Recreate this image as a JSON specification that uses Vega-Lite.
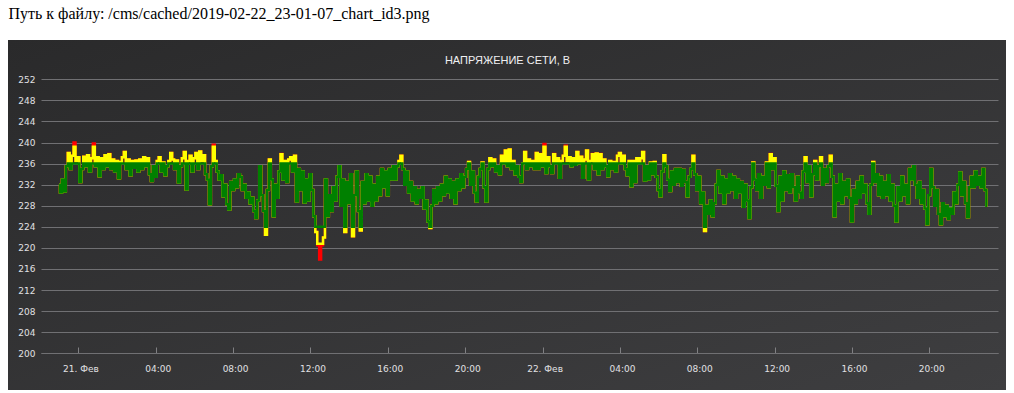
{
  "$schema": "https://vega.github.io/schema/vega-lite/v6.json",
  "width": 998,
  "height": 350,
  "autosize": "none",
  "padding": {"left": 8, "top": 40, "right": 8, "bottom": 3},
  "background": "white",
  "view": {"stroke": null, "fill": {"gradient": "linear", "x1": 0, "y1": 0, "x2": 1, "y2": 1, "stops": [{"offset": 0, "color": "#2a2a2b"}, {"offset": 1, "color": "#3e3e40"}]}},
  "data": {"values": [
{"t":"2019-02-20T23:00","v":232},{"t":"2019-02-20T23:06","v":230.5},{"t":"2019-02-20T23:12","v":233},{"t":"2019-02-20T23:18","v":230.7},{"t":"2019-02-20T23:24","v":235.5},{"t":"2019-02-20T23:30","v":238},{"t":"2019-02-20T23:36","v":235},{"t":"2019-02-20T23:42","v":237.5},{"t":"2019-02-20T23:48","v":240},{"t":"2019-02-20T23:54","v":236.5},
{"t":"2019-02-21T00:00","v":237.2},{"t":"2019-02-21T00:06","v":232.5},{"t":"2019-02-21T00:12","v":235},{"t":"2019-02-21T00:18","v":237.3},{"t":"2019-02-21T00:24","v":235.5},{"t":"2019-02-21T00:30","v":237.6},{"t":"2019-02-21T00:36","v":234.5},{"t":"2019-02-21T00:42","v":237},{"t":"2019-02-21T00:48","v":239.8},{"t":"2019-02-21T00:54","v":235.5},
{"t":"2019-02-21T01:00","v":237.2},{"t":"2019-02-21T01:06","v":233.6},{"t":"2019-02-21T01:12","v":237},{"t":"2019-02-21T01:18","v":235},{"t":"2019-02-21T01:24","v":237.6},{"t":"2019-02-21T01:30","v":235.5},{"t":"2019-02-21T01:36","v":237.8},{"t":"2019-02-21T01:42","v":235},{"t":"2019-02-21T01:48","v":236.8},{"t":"2019-02-21T01:54","v":234.5},
{"t":"2019-02-21T02:00","v":236.5},{"t":"2019-02-21T02:06","v":233.2},{"t":"2019-02-21T02:12","v":236.3},{"t":"2019-02-21T02:18","v":237.2},{"t":"2019-02-21T02:24","v":238.2},{"t":"2019-02-21T02:30","v":235},{"t":"2019-02-21T02:36","v":236.8},{"t":"2019-02-21T02:42","v":233.8},{"t":"2019-02-21T02:48","v":236.5},{"t":"2019-02-21T02:54","v":235.2},
{"t":"2019-02-21T03:00","v":236.6},{"t":"2019-02-21T03:06","v":234.5},{"t":"2019-02-21T03:12","v":236.8},{"t":"2019-02-21T03:18","v":235},{"t":"2019-02-21T03:24","v":237.2},{"t":"2019-02-21T03:30","v":235.5},{"t":"2019-02-21T03:36","v":237},{"t":"2019-02-21T03:42","v":234},{"t":"2019-02-21T03:48","v":232.7},{"t":"2019-02-21T03:54","v":235.5},
{"t":"2019-02-21T04:00","v":233.5},{"t":"2019-02-21T04:06","v":236.5},{"t":"2019-02-21T04:12","v":237.2},{"t":"2019-02-21T04:18","v":234.5},{"t":"2019-02-21T04:24","v":236.2},{"t":"2019-02-21T04:30","v":233.8},{"t":"2019-02-21T04:36","v":235.5},{"t":"2019-02-21T04:42","v":236.5},{"t":"2019-02-21T04:48","v":238},{"t":"2019-02-21T04:54","v":236.8},
{"t":"2019-02-21T05:00","v":235},{"t":"2019-02-21T05:06","v":236.6},{"t":"2019-02-21T05:12","v":232.4},{"t":"2019-02-21T05:18","v":235.5},{"t":"2019-02-21T05:24","v":237},{"t":"2019-02-21T05:30","v":238.2},{"t":"2019-02-21T05:36","v":231.1},{"t":"2019-02-21T05:42","v":236.5},{"t":"2019-02-21T05:48","v":237.5},{"t":"2019-02-21T05:54","v":234.5},
{"t":"2019-02-21T06:00","v":237},{"t":"2019-02-21T06:06","v":238},{"t":"2019-02-21T06:12","v":235},{"t":"2019-02-21T06:18","v":238.3},{"t":"2019-02-21T06:24","v":236.5},{"t":"2019-02-21T06:30","v":237.6},{"t":"2019-02-21T06:36","v":234},{"t":"2019-02-21T06:42","v":233},{"t":"2019-02-21T06:48","v":228.3},{"t":"2019-02-21T06:54","v":235.5},
{"t":"2019-02-21T07:00","v":239.6},{"t":"2019-02-21T07:06","v":236.5},{"t":"2019-02-21T07:12","v":234.5},{"t":"2019-02-21T07:18","v":233},{"t":"2019-02-21T07:24","v":233.8},{"t":"2019-02-21T07:30","v":229.8},{"t":"2019-02-21T07:36","v":232},{"t":"2019-02-21T07:42","v":228.3},{"t":"2019-02-21T07:48","v":227.3},{"t":"2019-02-21T07:54","v":232.5},
{"t":"2019-02-21T08:00","v":231},{"t":"2019-02-21T08:06","v":233},{"t":"2019-02-21T08:12","v":231.5},{"t":"2019-02-21T08:18","v":234},{"t":"2019-02-21T08:24","v":233.5},{"t":"2019-02-21T08:30","v":231},{"t":"2019-02-21T08:36","v":232},{"t":"2019-02-21T08:42","v":229.5},{"t":"2019-02-21T08:48","v":230.5},{"t":"2019-02-21T08:54","v":228.5},
{"t":"2019-02-21T09:00","v":229.5},{"t":"2019-02-21T09:06","v":227},{"t":"2019-02-21T09:12","v":225.7},{"t":"2019-02-21T09:18","v":229},{"t":"2019-02-21T09:24","v":235.5},{"t":"2019-02-21T09:30","v":230},{"t":"2019-02-21T09:36","v":227},{"t":"2019-02-21T09:42","v":222.5},{"t":"2019-02-21T09:48","v":231},{"t":"2019-02-21T09:54","v":236.8},
{"t":"2019-02-21T10:00","v":233},{"t":"2019-02-21T10:06","v":226},{"t":"2019-02-21T10:12","v":232},{"t":"2019-02-21T10:18","v":229.5},{"t":"2019-02-21T10:24","v":234.5},{"t":"2019-02-21T10:30","v":237.8},{"t":"2019-02-21T10:36","v":233},{"t":"2019-02-21T10:42","v":236.5},{"t":"2019-02-21T10:48","v":232.5},{"t":"2019-02-21T10:54","v":236.8},
{"t":"2019-02-21T11:00","v":237.2},{"t":"2019-02-21T11:06","v":234.5},{"t":"2019-02-21T11:12","v":237.5},{"t":"2019-02-21T11:18","v":228.8},{"t":"2019-02-21T11:24","v":235},{"t":"2019-02-21T11:30","v":231},{"t":"2019-02-21T11:36","v":234.5},{"t":"2019-02-21T11:42","v":228.6},{"t":"2019-02-21T11:48","v":233},{"t":"2019-02-21T11:54","v":229},
{"t":"2019-02-21T12:00","v":234},{"t":"2019-02-21T12:06","v":231},{"t":"2019-02-21T12:12","v":226},{"t":"2019-02-21T12:18","v":223},{"t":"2019-02-21T12:24","v":220.5},{"t":"2019-02-21T12:30","v":217.8},{"t":"2019-02-21T12:36","v":220.5},{"t":"2019-02-21T12:42","v":222},{"t":"2019-02-21T12:48","v":233},{"t":"2019-02-21T12:54","v":226},
{"t":"2019-02-21T13:00","v":230},{"t":"2019-02-21T13:06","v":227},{"t":"2019-02-21T13:12","v":231.5},{"t":"2019-02-21T13:18","v":229},{"t":"2019-02-21T13:24","v":233.5},{"t":"2019-02-21T13:30","v":235.5},{"t":"2019-02-21T13:36","v":228},{"t":"2019-02-21T13:42","v":233},{"t":"2019-02-21T13:48","v":223},{"t":"2019-02-21T13:54","v":232.5},
{"t":"2019-02-21T14:00","v":228.5},{"t":"2019-02-21T14:06","v":234},{"t":"2019-02-21T14:12","v":222.2},{"t":"2019-02-21T14:18","v":230},{"t":"2019-02-21T14:24","v":234.5},{"t":"2019-02-21T14:30","v":227},{"t":"2019-02-21T14:36","v":223.3},{"t":"2019-02-21T14:42","v":232.5},{"t":"2019-02-21T14:48","v":228.5},{"t":"2019-02-21T14:54","v":234},
{"t":"2019-02-21T15:00","v":229},{"t":"2019-02-21T15:06","v":233.5},{"t":"2019-02-21T15:12","v":228},{"t":"2019-02-21T15:18","v":232},{"t":"2019-02-21T15:24","v":229},{"t":"2019-02-21T15:30","v":233.5},{"t":"2019-02-21T15:36","v":230},{"t":"2019-02-21T15:42","v":235},{"t":"2019-02-21T15:48","v":231.5},{"t":"2019-02-21T15:54","v":234.5},
{"t":"2019-02-21T16:00","v":230},{"t":"2019-02-21T16:06","v":235},{"t":"2019-02-21T16:12","v":233},{"t":"2019-02-21T16:18","v":235.5},{"t":"2019-02-21T16:24","v":233},{"t":"2019-02-21T16:30","v":235.5},{"t":"2019-02-21T16:36","v":236.5},{"t":"2019-02-21T16:42","v":237.5},{"t":"2019-02-21T16:48","v":235},{"t":"2019-02-21T16:54","v":232},
{"t":"2019-02-21T17:00","v":234.5},{"t":"2019-02-21T17:06","v":230.5},{"t":"2019-02-21T17:12","v":232.5},{"t":"2019-02-21T17:18","v":229},{"t":"2019-02-21T17:24","v":231.5},{"t":"2019-02-21T17:30","v":228.5},{"t":"2019-02-21T17:36","v":231},{"t":"2019-02-21T17:42","v":229.5},{"t":"2019-02-21T17:48","v":231.5},{"t":"2019-02-21T17:54","v":227.5},
{"t":"2019-02-21T18:00","v":229},{"t":"2019-02-21T18:06","v":225},{"t":"2019-02-21T18:12","v":223.8},{"t":"2019-02-21T18:18","v":228},{"t":"2019-02-21T18:24","v":231},{"t":"2019-02-21T18:30","v":228.5},{"t":"2019-02-21T18:36","v":231.5},{"t":"2019-02-21T18:42","v":229},{"t":"2019-02-21T18:48","v":232},{"t":"2019-02-21T18:54","v":230},
{"t":"2019-02-21T19:00","v":233.5},{"t":"2019-02-21T19:06","v":230.5},{"t":"2019-02-21T19:12","v":233},{"t":"2019-02-21T19:18","v":229.5},{"t":"2019-02-21T19:24","v":232.5},{"t":"2019-02-21T19:30","v":228.5},{"t":"2019-02-21T19:36","v":233},{"t":"2019-02-21T19:42","v":231},{"t":"2019-02-21T19:48","v":234},{"t":"2019-02-21T19:54","v":231.5},
{"t":"2019-02-21T20:00","v":233.5},{"t":"2019-02-21T20:06","v":235},{"t":"2019-02-21T20:12","v":236.3},{"t":"2019-02-21T20:18","v":232},{"t":"2019-02-21T20:24","v":234.5},{"t":"2019-02-21T20:30","v":230.5},{"t":"2019-02-21T20:36","v":228.8},{"t":"2019-02-21T20:42","v":233.5},{"t":"2019-02-21T20:48","v":235},{"t":"2019-02-21T20:54","v":236.2},
{"t":"2019-02-21T21:00","v":231.5},{"t":"2019-02-21T21:06","v":228.8},{"t":"2019-02-21T21:12","v":235},{"t":"2019-02-21T21:18","v":237},{"t":"2019-02-21T21:24","v":235.5},{"t":"2019-02-21T21:30","v":236.8},{"t":"2019-02-21T21:36","v":234.5},{"t":"2019-02-21T21:42","v":235.5},{"t":"2019-02-21T21:48","v":234},{"t":"2019-02-21T21:54","v":237.5},
{"t":"2019-02-21T22:00","v":236},{"t":"2019-02-21T22:06","v":238.5},{"t":"2019-02-21T22:12","v":235.5},{"t":"2019-02-21T22:18","v":238.7},{"t":"2019-02-21T22:24","v":235},{"t":"2019-02-21T22:30","v":236.5},{"t":"2019-02-21T22:36","v":234},{"t":"2019-02-21T22:42","v":235.5},{"t":"2019-02-21T22:48","v":233.5},{"t":"2019-02-21T22:54","v":232.5},
{"t":"2019-02-21T23:00","v":236},{"t":"2019-02-21T23:06","v":238.2},{"t":"2019-02-21T23:12","v":235},{"t":"2019-02-21T23:18","v":236.8},{"t":"2019-02-21T23:24","v":235.5},{"t":"2019-02-21T23:30","v":236.5},{"t":"2019-02-21T23:36","v":235},{"t":"2019-02-21T23:42","v":238},{"t":"2019-02-21T23:48","v":235},{"t":"2019-02-21T23:54","v":237.8},
{"t":"2019-02-22T00:00","v":235.5},{"t":"2019-02-22T00:06","v":239.7},{"t":"2019-02-22T00:12","v":234.2},{"t":"2019-02-22T00:18","v":237.2},{"t":"2019-02-22T00:24","v":235.5},{"t":"2019-02-22T00:30","v":234.2},{"t":"2019-02-22T00:36","v":237.8},{"t":"2019-02-22T00:42","v":236.3},{"t":"2019-02-22T00:48","v":237},{"t":"2019-02-22T00:54","v":233.3},
{"t":"2019-02-22T01:00","v":236.5},{"t":"2019-02-22T01:06","v":237.5},{"t":"2019-02-22T01:12","v":239.4},{"t":"2019-02-22T01:18","v":236.5},{"t":"2019-02-22T01:24","v":237.2},{"t":"2019-02-22T01:30","v":235.5},{"t":"2019-02-22T01:36","v":237},{"t":"2019-02-22T01:42","v":235.8},{"t":"2019-02-22T01:48","v":238.2},{"t":"2019-02-22T01:54","v":236},
{"t":"2019-02-22T02:00","v":237.3},{"t":"2019-02-22T02:06","v":233.3},{"t":"2019-02-22T02:12","v":236.8},{"t":"2019-02-22T02:18","v":238.5},{"t":"2019-02-22T02:24","v":233},{"t":"2019-02-22T02:30","v":236.5},{"t":"2019-02-22T02:36","v":237.8},{"t":"2019-02-22T02:42","v":235},{"t":"2019-02-22T02:48","v":237.9},{"t":"2019-02-22T02:54","v":234},
{"t":"2019-02-22T03:00","v":237.8},{"t":"2019-02-22T03:06","v":235},{"t":"2019-02-22T03:12","v":236.8},{"t":"2019-02-22T03:18","v":235.5},{"t":"2019-02-22T03:24","v":233.6},{"t":"2019-02-22T03:30","v":236.5},{"t":"2019-02-22T03:36","v":235},{"t":"2019-02-22T03:42","v":236.3},{"t":"2019-02-22T03:48","v":234.5},{"t":"2019-02-22T03:54","v":237.5},
{"t":"2019-02-22T04:00","v":238},{"t":"2019-02-22T04:06","v":236},{"t":"2019-02-22T04:12","v":237.5},{"t":"2019-02-22T04:18","v":235},{"t":"2019-02-22T04:24","v":233.8},{"t":"2019-02-22T04:30","v":236.5},{"t":"2019-02-22T04:36","v":231.7},{"t":"2019-02-22T04:42","v":236.5},{"t":"2019-02-22T04:48","v":232.5},{"t":"2019-02-22T04:54","v":237},
{"t":"2019-02-22T05:00","v":236.2},{"t":"2019-02-22T05:06","v":237},{"t":"2019-02-22T05:12","v":238.2},{"t":"2019-02-22T05:18","v":232.8},{"t":"2019-02-22T05:24","v":235.5},{"t":"2019-02-22T05:30","v":233},{"t":"2019-02-22T05:36","v":236.2},{"t":"2019-02-22T05:42","v":234},{"t":"2019-02-22T05:48","v":236.3},{"t":"2019-02-22T05:54","v":233.5},
{"t":"2019-02-22T06:00","v":231},{"t":"2019-02-22T06:06","v":229.8},{"t":"2019-02-22T06:12","v":234.5},{"t":"2019-02-22T06:18","v":237.6},{"t":"2019-02-22T06:24","v":235.5},{"t":"2019-02-22T06:30","v":233},{"t":"2019-02-22T06:36","v":230.8},{"t":"2019-02-22T06:42","v":234.5},{"t":"2019-02-22T06:48","v":232},{"t":"2019-02-22T06:54","v":235},
{"t":"2019-02-22T07:00","v":232.5},{"t":"2019-02-22T07:06","v":235},{"t":"2019-02-22T07:12","v":231.8},{"t":"2019-02-22T07:18","v":234.8},{"t":"2019-02-22T07:24","v":232.5},{"t":"2019-02-22T07:30","v":229.8},{"t":"2019-02-22T07:36","v":233.5},{"t":"2019-02-22T07:42","v":235},{"t":"2019-02-22T07:48","v":237.5},{"t":"2019-02-22T07:54","v":234},
{"t":"2019-02-22T08:00","v":231},{"t":"2019-02-22T08:06","v":233.5},{"t":"2019-02-22T08:12","v":228.5},{"t":"2019-02-22T08:18","v":230.5},{"t":"2019-02-22T08:24","v":223.2},{"t":"2019-02-22T08:30","v":228},{"t":"2019-02-22T08:36","v":226.5},{"t":"2019-02-22T08:42","v":229},{"t":"2019-02-22T08:48","v":226},{"t":"2019-02-22T08:54","v":228.5},
{"t":"2019-02-22T09:00","v":232},{"t":"2019-02-22T09:06","v":234.6},{"t":"2019-02-22T09:12","v":230.5},{"t":"2019-02-22T09:18","v":233.5},{"t":"2019-02-22T09:24","v":228.5},{"t":"2019-02-22T09:30","v":233},{"t":"2019-02-22T09:36","v":230.5},{"t":"2019-02-22T09:42","v":234},{"t":"2019-02-22T09:48","v":231},{"t":"2019-02-22T09:54","v":233.5},
{"t":"2019-02-22T10:00","v":229.5},{"t":"2019-02-22T10:06","v":233},{"t":"2019-02-22T10:12","v":230.5},{"t":"2019-02-22T10:18","v":232.5},{"t":"2019-02-22T10:24","v":227.8},{"t":"2019-02-22T10:30","v":232},{"t":"2019-02-22T10:36","v":229},{"t":"2019-02-22T10:42","v":225.7},{"t":"2019-02-22T10:48","v":231.5},{"t":"2019-02-22T10:54","v":236.2},
{"t":"2019-02-22T11:00","v":233},{"t":"2019-02-22T11:06","v":231},{"t":"2019-02-22T11:12","v":234},{"t":"2019-02-22T11:18","v":229.5},{"t":"2019-02-22T11:24","v":233.5},{"t":"2019-02-22T11:30","v":232},{"t":"2019-02-22T11:36","v":236.2},{"t":"2019-02-22T11:42","v":231.5},{"t":"2019-02-22T11:48","v":237.8},{"t":"2019-02-22T11:54","v":235},
{"t":"2019-02-22T12:00","v":237},{"t":"2019-02-22T12:06","v":231.8},{"t":"2019-02-22T12:12","v":227},{"t":"2019-02-22T12:18","v":233.5},{"t":"2019-02-22T12:24","v":229},{"t":"2019-02-22T12:30","v":234.5},{"t":"2019-02-22T12:36","v":231},{"t":"2019-02-22T12:42","v":233.8},{"t":"2019-02-22T12:48","v":230.5},{"t":"2019-02-22T12:54","v":234},
{"t":"2019-02-22T13:00","v":231.5},{"t":"2019-02-22T13:06","v":229},{"t":"2019-02-22T13:12","v":233.5},{"t":"2019-02-22T13:18","v":230.5},{"t":"2019-02-22T13:24","v":229.5},{"t":"2019-02-22T13:30","v":234.5},{"t":"2019-02-22T13:36","v":237.2},{"t":"2019-02-22T13:42","v":232.5},{"t":"2019-02-22T13:48","v":235.5},{"t":"2019-02-22T13:54","v":229.8},
{"t":"2019-02-22T14:00","v":234},{"t":"2019-02-22T14:06","v":236.5},{"t":"2019-02-22T14:12","v":233},{"t":"2019-02-22T14:18","v":235.5},{"t":"2019-02-22T14:24","v":237.2},{"t":"2019-02-22T14:30","v":232},{"t":"2019-02-22T14:36","v":235},{"t":"2019-02-22T14:42","v":232.5},{"t":"2019-02-22T14:48","v":235.5},{"t":"2019-02-22T14:54","v":237.5},
{"t":"2019-02-22T15:00","v":233.5},{"t":"2019-02-22T15:06","v":226},{"t":"2019-02-22T15:12","v":232},{"t":"2019-02-22T15:18","v":229},{"t":"2019-02-22T15:24","v":234},{"t":"2019-02-22T15:30","v":228.5},{"t":"2019-02-22T15:36","v":232.5},{"t":"2019-02-22T15:42","v":230},{"t":"2019-02-22T15:48","v":233},{"t":"2019-02-22T15:54","v":229.5},
{"t":"2019-02-22T16:00","v":225},{"t":"2019-02-22T16:06","v":231},{"t":"2019-02-22T16:12","v":228.5},{"t":"2019-02-22T16:18","v":232.5},{"t":"2019-02-22T16:24","v":229.5},{"t":"2019-02-22T16:30","v":233.5},{"t":"2019-02-22T16:36","v":230.5},{"t":"2019-02-22T16:42","v":232},{"t":"2019-02-22T16:48","v":228.5},{"t":"2019-02-22T16:54","v":226.5},
{"t":"2019-02-22T17:00","v":232},{"t":"2019-02-22T17:06","v":236.3},{"t":"2019-02-22T17:12","v":232.5},{"t":"2019-02-22T17:18","v":234},{"t":"2019-02-22T17:24","v":230},{"t":"2019-02-22T17:30","v":233.5},{"t":"2019-02-22T17:36","v":229.5},{"t":"2019-02-22T17:42","v":232.5},{"t":"2019-02-22T17:48","v":230},{"t":"2019-02-22T17:54","v":233.8},
{"t":"2019-02-22T18:00","v":229},{"t":"2019-02-22T18:06","v":232},{"t":"2019-02-22T18:12","v":228},{"t":"2019-02-22T18:18","v":225},{"t":"2019-02-22T18:24","v":231.5},{"t":"2019-02-22T18:30","v":229},{"t":"2019-02-22T18:36","v":233.5},{"t":"2019-02-22T18:42","v":230},{"t":"2019-02-22T18:48","v":232},{"t":"2019-02-22T18:54","v":228.5},
{"t":"2019-02-22T19:00","v":235},{"t":"2019-02-22T19:06","v":233},{"t":"2019-02-22T19:12","v":235.5},{"t":"2019-02-22T19:18","v":232},{"t":"2019-02-22T19:24","v":229.5},{"t":"2019-02-22T19:30","v":232.5},{"t":"2019-02-22T19:36","v":228.5},{"t":"2019-02-22T19:42","v":231},{"t":"2019-02-22T19:48","v":227.5},{"t":"2019-02-22T19:54","v":224.5},
{"t":"2019-02-22T20:00","v":230},{"t":"2019-02-22T20:06","v":235},{"t":"2019-02-22T20:12","v":231.5},{"t":"2019-02-22T20:18","v":228},{"t":"2019-02-22T20:24","v":231},{"t":"2019-02-22T20:30","v":226.5},{"t":"2019-02-22T20:36","v":224.5},{"t":"2019-02-22T20:42","v":228.5},{"t":"2019-02-22T20:48","v":226},{"t":"2019-02-22T20:54","v":228},
{"t":"2019-02-22T21:00","v":225.5},{"t":"2019-02-22T21:06","v":227.5},{"t":"2019-02-22T21:12","v":226.5},{"t":"2019-02-22T21:18","v":230.5},{"t":"2019-02-22T21:24","v":228.5},{"t":"2019-02-22T21:30","v":232},{"t":"2019-02-22T21:36","v":234.3},{"t":"2019-02-22T21:42","v":230},{"t":"2019-02-22T21:48","v":232.5},{"t":"2019-02-22T21:54","v":228.5},
{"t":"2019-02-22T22:00","v":225.8},{"t":"2019-02-22T22:06","v":231.5},{"t":"2019-02-22T22:12","v":233.5},{"t":"2019-02-22T22:18","v":231.5},{"t":"2019-02-22T22:24","v":234.5},{"t":"2019-02-22T22:30","v":232},{"t":"2019-02-22T22:36","v":233.5},{"t":"2019-02-22T22:42","v":231.5},{"t":"2019-02-22T22:48","v":235},{"t":"2019-02-22T22:54","v":231},
{"t":"2019-02-22T23:00","v":228}
  ]},
  "encoding": {
    "x": {
      "field": "t",
      "type": "temporal",
      "scale": {
        "domain": [
          {"year": 2019, "month": 2, "date": 20, "hours": 22, "minutes": 4},
          {"year": 2019, "month": 2, "date": 22, "hours": 23, "minutes": 33}
        ],
        "range": [33, 990]
      },
      "axis": {
        "orient": "bottom",
        "offset": -37,
        "grid": false,
        "values": [
          {"year": 2019, "month": 2, "date": 21, "hours": 0},
          {"year": 2019, "month": 2, "date": 21, "hours": 4},
          {"year": 2019, "month": 2, "date": 21, "hours": 8},
          {"year": 2019, "month": 2, "date": 21, "hours": 12},
          {"year": 2019, "month": 2, "date": 21, "hours": 16},
          {"year": 2019, "month": 2, "date": 21, "hours": 20},
          {"year": 2019, "month": 2, "date": 22, "hours": 0},
          {"year": 2019, "month": 2, "date": 22, "hours": 4},
          {"year": 2019, "month": 2, "date": 22, "hours": 8},
          {"year": 2019, "month": 2, "date": 22, "hours": 12},
          {"year": 2019, "month": 2, "date": 22, "hours": 16},
          {"year": 2019, "month": 2, "date": 22, "hours": 20}
        ],
        "labelExpr": "hours(datum.value) == 0 ? date(datum.value) + '. Фев' : timeFormat(datum.value, '%H:%M')",
        "domainColor": "#707073",
        "tickColor": "#808083",
        "tickSize": -6,
        "tickWidth": 1,
        "labelColor": "#E0E0E3",
        "labelFont": "DejaVu Sans",
        "labelFontSize": 9,
        "labelPadding": 17,
        "labelOffset": 2,
        "title": "НАПРЯЖЕНИЕ СЕТИ, В",
        "titleX": 499,
        "titleY": -293,
        "titleAlign": "center",
        "titleBaseline": "middle",
        "titleColor": "#F0F0F3",
        "titleFont": "Liberation Sans",
        "titleFontSize": 11,
        "titleFontWeight": "normal"
      }
    }
  },
  "layer": [
    {
      "mark": {"type": "line", "color": "#ff0000", "strokeWidth": 2.5, "interpolate": "step"},
      "encoding": {
        "y": {
          "field": "v",
          "type": "quantitative",
          "scale": {"domain": [200, 252], "range": [313.3, 39.3], "nice": false, "zero": false},
          "axis": {
            "offset": -33,
            "values": [200, 204, 208, 212, 216, 220, 224, 228, 232, 236, 240, 244, 248, 252],
            "grid": true,
            "gridColor": "#707073",
            "domain": false,
            "ticks": false,
            "labelPadding": 6,
            "labelColor": "#E0E0E3",
            "labelFont": "DejaVu Sans",
            "labelFontSize": 9,
            "title": "Путь к файлу: /cms/cached/2019-02-22_23-01-07_chart_id3.png",
            "titleX": -33,
            "titleY": -22,
            "titleAngle": 0,
            "titleAlign": "left",
            "titleBaseline": "alphabetic",
            "titleFont": "Liberation Serif",
            "titleFontSize": 16,
            "titleFontWeight": "normal",
            "titleColor": "#000000"
          }
        }
      }
    },
    {
      "mark": {"type": "line", "color": "#ffff00", "strokeWidth": 2.5, "interpolate": "step"},
      "encoding": {
        "y": {
          "field": "v",
          "type": "quantitative",
          "scale": {"domain": [220.8, 239.2], "range": [203.7, 106.75], "clamp": true, "nice": false, "zero": false},
          "axis": null
        }
      }
    },
    {
      "mark": {"type": "line", "color": "#008000", "strokeWidth": 2.5, "interpolate": "step"},
      "encoding": {
        "y": {
          "field": "v",
          "type": "quantitative",
          "scale": {"domain": [224, 236], "range": [186.84, 123.61], "clamp": true, "nice": false, "zero": false},
          "axis": null
        }
      }
    }
  ],
  "resolve": {"scale": {"y": "independent"}}
}
